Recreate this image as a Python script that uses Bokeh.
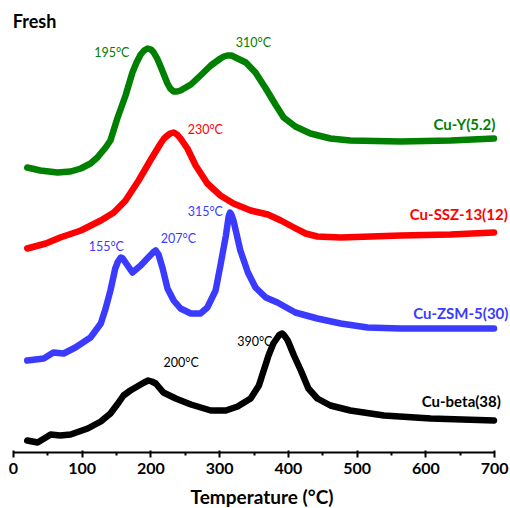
from bokeh.plotting import figure
from bokeh.models import Range1d, Label, FixedTicker
from bokeh.embed import file_html
from bokeh.resources import INLINE

# H2-TPR profiles (temperature in degC, signal in arbitrary units, offset stacked)
cuy_temp = [20, 39, 64, 83, 98, 112, 122, 134, 141, 151, 163, 173, 179, 185, 190, 195, 200, 204,
            209, 214, 224, 228, 233, 238, 243, 258, 272, 287, 301, 306, 311, 317, 323, 338, 352,
            367, 381, 393, 410, 432, 461, 490, 563, 636, 699]
cuy_sig = [286, 283, 281, 282, 285, 290, 296, 306, 313, 335, 358, 381, 391, 399, 403, 405, 404, 401,
           395, 387, 370, 365, 362, 362, 363, 369, 378, 388, 395, 397, 398, 398, 396, 391, 381,
           365, 349, 336, 327, 320, 315, 313, 312, 313, 315]

ssz_temp = [20, 47, 68, 98, 127, 146, 163, 182, 199, 214, 219, 224, 228, 233, 238, 243, 253, 265,
            282, 301, 320, 345, 370, 389, 408, 425, 442, 476, 520, 563, 636, 699]
ssz_sig = [205, 210, 216, 223, 233, 241, 253, 273, 293, 310, 315, 318, 320, 321, 319, 315, 305, 288,
           270, 258, 250, 243, 239, 233, 226, 220, 217, 216, 217, 218, 219, 221]

zsm_temp = [20, 44, 58, 73, 90, 112, 127, 134, 141, 148, 152, 156, 159, 163, 173, 185, 196, 203,
            207, 211, 217, 224, 233, 243, 258, 272, 282, 294, 301, 309, 313, 315, 317, 320, 330,
            341, 352, 367, 384, 410, 442, 476, 515, 563, 636, 699]
zsm_sig = [93, 95, 101, 100, 106, 116, 130, 145, 163, 185, 192, 196, 195, 191, 181, 188, 196, 201,
           203, 199, 185, 165, 153, 145, 140, 140, 146, 163, 188, 218, 237, 241, 239, 233, 203,
           181, 166, 156, 151, 141, 135, 130, 126, 125, 125, 125]

beta_temp = [20, 35, 47, 54, 68, 83, 108, 127, 141, 153, 160, 170, 185, 190, 196, 201, 207, 218,
             236, 258, 287, 309, 326, 345, 357, 364, 371, 378, 386, 388, 391, 394, 399, 408, 418,
             429, 442, 461, 490, 539, 607, 699]
beta_sig = [13, 11, 16, 19, 18, 19, 25, 32, 40, 51, 58, 63, 69, 71, 73, 72, 70, 61,
            55, 49, 43, 43, 47, 55, 68, 83, 98, 110, 118, 119, 120, 118, 113, 98, 83,
            65, 55, 48, 43, 38, 35, 33]

series_names = ["Cu-Y(5.2)", "Cu-SSZ-13(12)", "Cu-ZSM-5(30)", "Cu-beta(38)"]
series_colors = ["#008000", "#ff0000", "#3b3bff", "#000000"]

# peak annotations: (text, temperature position, signal position, series index)
peak_labels = [
    ("195°C", 143, 401, 0), ("310°C", 349, 411, 0),
    ("230°C", 279, 324, 1),
    ("155°C", 135, 207, 2), ("207°C", 240, 215, 2), ("315°C", 279, 242, 2),
    ("200°C", 244, 91, 3), ("390°C", 351, 112, 3),
]
# series name positions (right edge temperature, signal)
name_pos = [(701, 330), (719, 240), (720, 141), (709, 53)]

x_ticks = [0, 100, 200, 300, 400, 500, 600, 700]
FONT = "Lato"

p = figure(frame_width=497, frame_height=452, output_backend="svg", toolbar_location=None,
           x_range=Range1d(0, 723), y_range=Range1d(1, 453), y_axis_location=None,
           min_border_left=13, min_border_right=0, min_border_top=0, min_border_bottom=56)
p.outline_line_color = None
p.xgrid.visible = False
p.ygrid.visible = False

xs = [cuy_temp, ssz_temp, zsm_temp, beta_temp]
ys = [cuy_sig, ssz_sig, zsm_sig, beta_sig]
for t, s, c in zip(xs, ys, series_colors):
    p.line(t, s, line_color=c, line_width=6.5, line_join="round", line_cap="round")

for text, tx, sy, i in peak_labels:
    p.add_layout(Label(x=tx, y=sy, text=text, text_color=series_colors[i], text_font=FONT,
                       text_font_size="12.5px", text_align="center", text_baseline="middle"))

for name, (tx, sy), c in zip(series_names, name_pos, series_colors):
    p.add_layout(Label(x=tx, y=sy, text=name, text_color=c, text_font=FONT, text_font_size="15px",
                       text_font_style="bold", text_align="right", text_baseline="middle"))

p.add_layout(Label(x=-1, y=433, text="Fresh", text_font=FONT, text_font_size="18px",
                   text_font_style="bold", text_color="black", text_baseline="middle"))

ax = p.xaxis[0]
ax.bounds = (0, 700)
ax.ticker = FixedTicker(ticks=x_ticks, minor_ticks=[50, 150, 250, 350, 450, 550, 650])
ax.axis_line_width = 2
ax.axis_line_color = "black"
ax.major_tick_line_width = 2
ax.major_tick_in = 2
ax.major_tick_out = 5
ax.minor_tick_line_width = 2
ax.minor_tick_in = 0
ax.minor_tick_out = 3
ax.major_label_text_font = FONT
ax.major_label_text_font_size = "16px"
ax.major_label_text_font_style = "bold"
ax.major_label_text_color = "black"
ax.major_label_standoff = 5
ax.axis_label = "Temperature (°C)"
ax.axis_label_text_font = FONT
ax.axis_label_text_font_size = "19px"
ax.axis_label_text_font_style = "bold"
ax.axis_label_text_color = "black"
ax.axis_label_standoff = 8

open("out.html", "w").write(file_html(p, INLINE))
